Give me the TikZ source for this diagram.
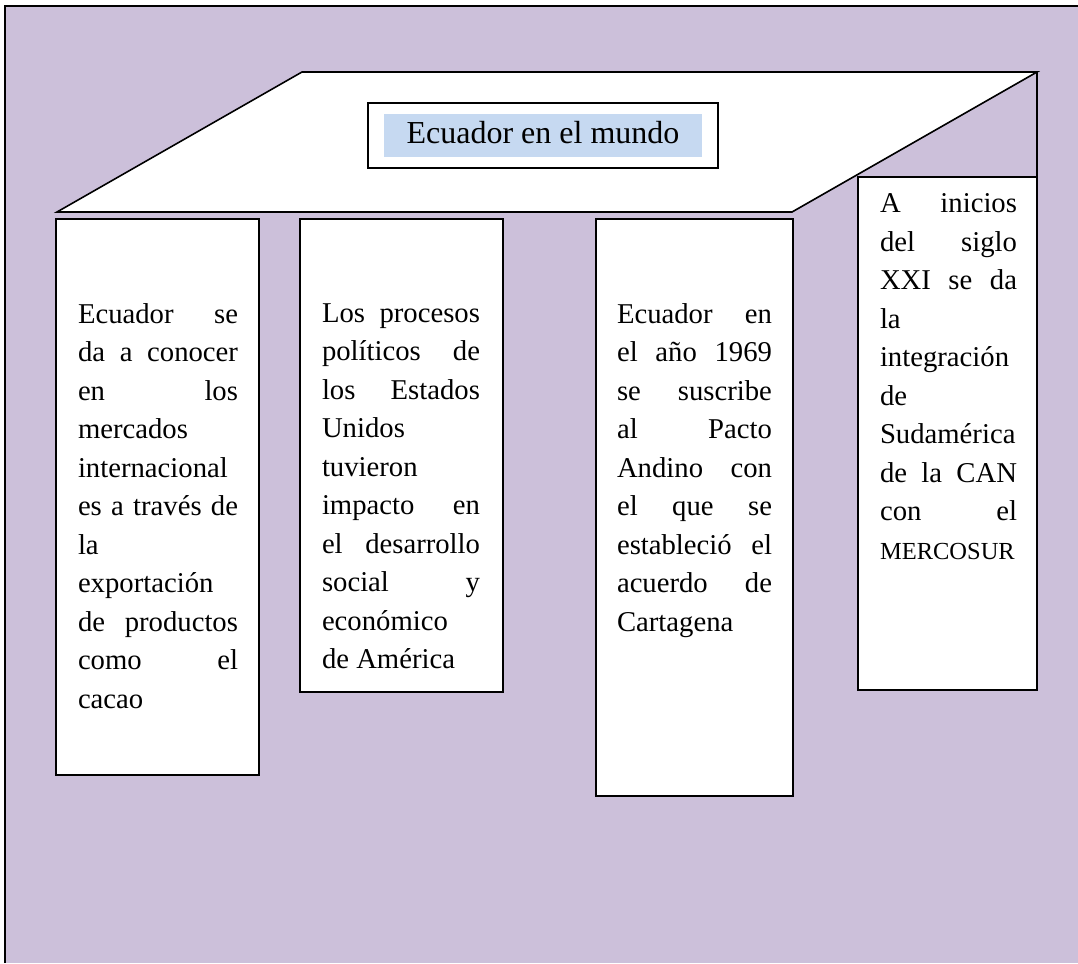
\documentclass[tikz,border=0pt]{standalone}
\usepackage{fontspec}
\setmainfont{Liberation Serif}
\usetikzlibrary{positioning}
\definecolor{lavanda}{RGB}{204,192,218}
\definecolor{celeste}{RGB}{198,217,241}
\tikzset{
	every node/.append style={
		inner sep=0pt,
		outer sep=0pt,
	},
	linea/.append style={
		line width=1.6pt,
	},
	caja/.append style={
		draw,
		linea,
		fill=white,
		anchor=north west,
	},
	texto/.append style={
		align=justify,
		font={\fontsize{28.7pt}{38.5pt}\selectfont},
	},
}

\begin{document}
\begin{tikzpicture}[x=1pt, y=-1pt]
\useasboundingbox (0,0) rectangle (1078,963);
\fill[lavanda] (5,6) rectangle (1078,963);
\draw[linea] (5,963) -- (5,6) -- (1078,6);

% tapa de la mesa
\coordinate(p1) at (57,212);
\coordinate(p2) at (302,72);
\coordinate(p3) at (1037,72);
\coordinate(p4) at (792,212);
\draw[linea, fill=white, line join=miter] (p1) -- (p2) -- (p3) -- (p4) -- cycle;

\node(marco)[draw, linea, fill=white, minimum width=350pt, minimum height=65pt] at (543,135.5) {};
\node(titulo)[fill=celeste, minimum width=318pt, minimum height=43pt, text height=22pt, text depth=6pt,
	font={\fontsize{32pt}{38pt}\selectfont}] at (marco.center) {Ecuador en el mundo};

% patas
\node(b1)[caja, minimum width=203pt, minimum height=556pt] at (56,219) {};
\node(b2)[caja, minimum width=203pt, minimum height=473pt] at (300,219) {};
\node(b3)[caja, minimum width=197pt, minimum height=577pt] at (596,219) {};
\node(b4)[caja, minimum width=179pt, minimum height=513pt] at (858,177) {};
\draw[linea] (p3) -- (b4.north east);

\node(t1)[texto, text width=160pt, below right=84.5pt and 22pt of b1.north west]{%
Ecuador se\linebreak da a conocer\linebreak en los\linebreak mercados\\
internacional\\ es a través de\linebreak la\\ exportación\\
de productos\linebreak como el\linebreak cacao};

\node(t2)[texto, text width=158pt, below right=84.5pt and 22pt of b2.north west]{%
Los procesos\linebreak políticos de\linebreak los Estados\linebreak Unidos\\
tuvieron\\ impacto en\linebreak el desarrollo\linebreak social y\linebreak
económico\\ de América};

\node(t3)[texto, text width=155pt, below right=84.5pt and 21pt of b3.north west]{%
Ecuador en\linebreak el año 1969\linebreak se suscribe\linebreak al Pacto\linebreak
Andino con\linebreak el que se\linebreak estableció el\linebreak acuerdo de\linebreak
Cartagena};

\node(t4)[texto, text width=137pt, below right=16.5pt and 22pt of b4.north west]{%
A inicios\linebreak del siglo\linebreak XXI se da\linebreak la\\ integración\\ de\\
Sudamérica\\ de la CAN\linebreak con el\linebreak {\fontsize{24.5pt}{38.5pt}\selectfont MERCOSUR}};

\end{tikzpicture}
\end{document}
